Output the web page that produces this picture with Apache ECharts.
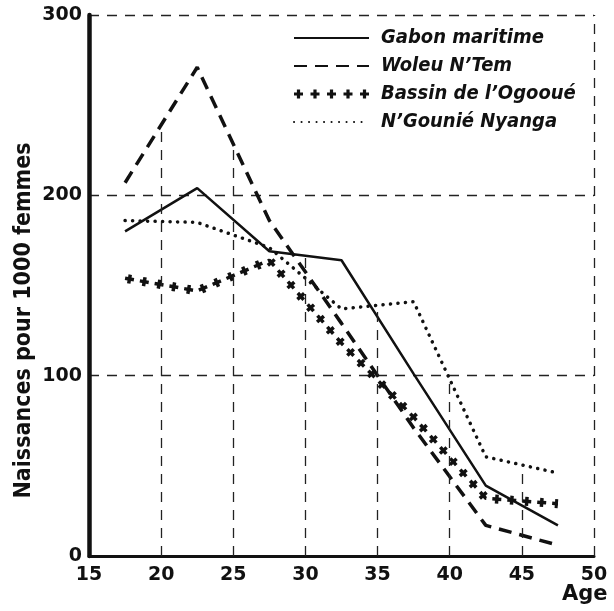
<!DOCTYPE html>
<html>
<head>
<meta charset="utf-8">
<script src="https://cdn.jsdelivr.net/npm/echarts@6/dist/echarts.min.js"></script>
<style>
  html, body { margin: 0; padding: 0; background: #fff; }
  #chart { width: 614px; height: 611px; }
</style>
</head>
<body>
<div id="chart"></div>
<script>
// centre des groupes d'age
const ages = [17.5, 22.5, 27.5, 32.5, 37.5, 42.5, 47.5]
const gabonMaritime = [180, 204, 169, 164, 101, 39, 17]
const woleuNtem = [207, 271, 186, 129, 71, 17, 6]
const bassinOgooue = [154, 147, 164, 118, 77, 32, 29]
const ngounieNyanga = [186, 185, 171, 137, 141, 55, 46]
const seriesNames = ['Gabon maritime', 'Woleu N’Tem', 'Bassin de l’Ogooué', 'N’Gounié Nyanga']
const xGridTicks = [20, 25, 30, 35, 40, 45, 50]

const ink = '#111'
const condensed = "'DejaVu Sans Condensed', 'Liberation Sans Narrow', 'DejaVu Sans', sans-serif"

function pairs(values) {
  return ages.map((a, i) => [a, values[i]])
}

// hauteur de la courbe la plus haute a un age donne (les verticales s'arretent dessous)
function valueAt(values, x) {
  for (let i = 0; i < ages.length - 1; i++) {
    if (x >= ages[i] && x <= ages[i + 1]) {
      const t = (x - ages[i]) / (ages[i + 1] - ages[i])
      return values[i] + (values[i + 1] - values[i]) * t
    }
  }
  return null
}
function gridTop(x) {
  const all = [gabonMaritime, woleuNtem, bassinOgooue, ngounieNyanga]
    .map(v => valueAt(v, x))
    .filter(v => v !== null)
  return all.length ? Math.max(...all) : 300
}

// petites croix pour la legende
function crossesIcon() {
  let d = ''
  for (let i = 0; i < 5; i++) {
    const cx = 4.5 + i * 16.5
    d += `M${cx - 4.5} 2.9h9v3.2h-9z M${cx - 1.6} 0h3.2v9h-3.2z `
  }
  return 'path://' + d
}

const chart = echarts.init(document.getElementById('chart'), null, { renderer: 'canvas' })

const dashedGrid = { color: '#222', width: 1.3, type: [10, 8] }
const noDot = { opacity: 0 }

const options = {
  animation: false,
  backgroundColor: '#fff',
  grid: {
    left: 89,
    right: 20,
    top: 15,
    bottom: 55,
    outerBoundsMode: 'none',
  },
  legend: {
    orient: 'vertical',
    left: 293,
    top: 28,
    padding: 0,
    itemWidth: 75,
    itemHeight: 9,
    itemGap: 8,
    selectedMode: false,
    data: [
      { name: seriesNames[0], itemStyle: noDot },
      { name: seriesNames[1], itemStyle: noDot },
      { name: seriesNames[2], icon: crossesIcon() },
      { name: seriesNames[3], itemStyle: noDot },
    ],
    textStyle: {
      color: ink,
      fontFamily: condensed,
      fontStyle: 'italic',
      fontWeight: 'bold',
      fontSize: 20,
      lineHeight: 20,
      padding: [0, 0, 0, 7],
    },
  },
  xAxis: {
    type: 'value',
    min: 15,
    max: 50,
    interval: 5,
    name: 'Age',
    nameLocation: 'end',
    nameGap: -32,
    nameMoveOverlap: false,
    nameTextStyle: {
      color: ink,
      fontFamily: "'DejaVu Sans', sans-serif",
      fontWeight: 'bold',
      fontSize: 21,
      verticalAlign: 'top',
      padding: [28, 0, 0, 0],
    },
    axisLine: { show: true, onZero: false, lineStyle: { color: ink, width: 3 } },
    axisTick: { show: false },
    splitLine: { show: false },
    axisLabel: {
      color: ink,
      fontFamily: "'DejaVu Sans', sans-serif",
      fontWeight: 'bold',
      fontSize: 19,
      margin: 10,
    },
  },
  yAxis: {
    type: 'value',
    min: 0,
    max: 300,
    interval: 100,
    name: 'Naissances pour 1000 femmes',
    nameLocation: 'middle',
    nameGap: 53,
    nameMoveOverlap: false,
    nameTextStyle: {
      color: ink,
      fontFamily: condensed,
      fontWeight: 'bold',
      fontSize: 23,
      padding: [0, 70, 0, 0],
    },
    axisLine: { show: true, lineStyle: { color: ink, width: 4.5 } },
    axisTick: { show: false },
    splitLine: { show: true, lineStyle: dashedGrid },
    axisLabel: {
      color: ink,
      fontFamily: "'DejaVu Sans', sans-serif",
      fontWeight: 'bold',
      fontSize: 19,
      margin: 7,
    },
  },
  series: [
    {
      name: seriesNames[0],
      type: 'line',
      symbol: 'none',
      color: ink,
      itemStyle: { color: ink },
      lineStyle: { color: ink, width: 2.5 },
      data: pairs(gabonMaritime),
      markLine: {
        silent: true,
        symbol: ['none', 'none'],
        label: { show: false },
        lineStyle: dashedGrid,
        data: xGridTicks.map(x => [{ coord: [x, 0] }, { coord: [x, gridTop(x)] }]),
      },
    },
    {
      name: seriesNames[1],
      type: 'line',
      symbol: 'none',
      color: ink,
      itemStyle: { color: ink },
      lineStyle: { color: ink, width: 3.5, type: [13, 8], cap: 'butt' },
      data: pairs(woleuNtem),
    },
    {
      // barre le long de la courbe
      name: seriesNames[2],
      type: 'line',
      symbol: 'none',
      color: ink,
      itemStyle: { color: ink },
      lineStyle: { color: ink, width: 3.5, type: [9, 6], cap: 'butt' },
      data: pairs(bassinOgooue),
    },
    {
      // barre en travers -> fait la croix
      name: seriesNames[2],
      type: 'line',
      symbol: 'none',
      color: ink,
      itemStyle: { color: ink },
      lineStyle: { color: ink, width: 9, type: [3.5, 11.5], dashOffset: 12.25, cap: 'butt' },
      data: pairs(bassinOgooue),
    },
    {
      name: seriesNames[3],
      type: 'line',
      symbol: 'none',
      color: ink,
      itemStyle: { color: ink },
      lineStyle: { color: ink, width: 3.5, type: [0.1, 7.4], cap: 'round' },
      data: pairs(ngounieNyanga),
    },
  ],
}

chart.setOption(options)
</script>
</body>
</html>
